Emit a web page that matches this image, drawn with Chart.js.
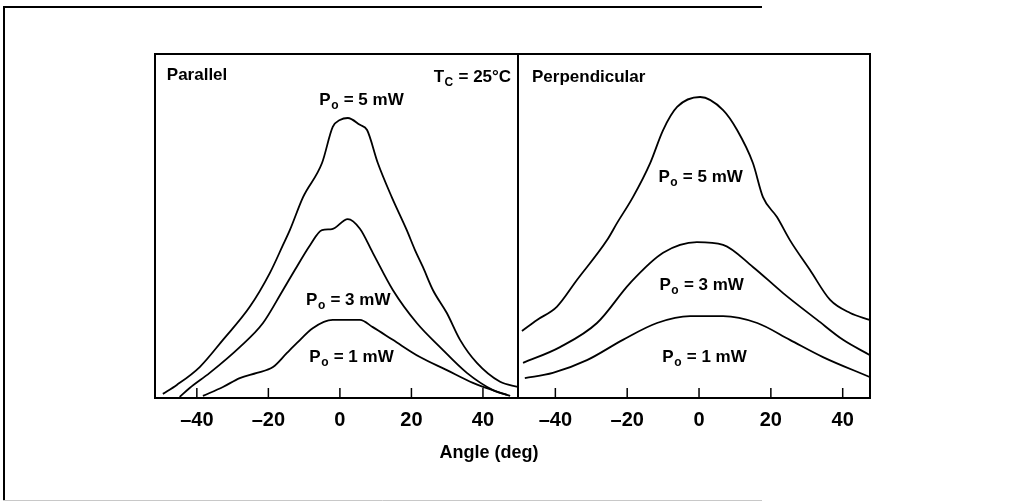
<!DOCTYPE html>
<html>
<head>
<meta charset="utf-8">
<script src="https://cdn.jsdelivr.net/npm/chart.js@4"></script>
<style>
  html, body { margin: 0; padding: 0; background: #fff; }
  canvas { position: absolute; left: 0; top: 0; }
</style>
</head>
<body>
<canvas id="parallelChart" width="1020" height="503"></canvas>
<canvas id="perpChart" width="1020" height="503"></canvas>
<script>
// tick labels shared by both panels
const tickValues = [-40, -20, 0, 20, 40];

// Parallel panel (angle in deg, intensity in arbitrary units)
const parAngle5 = [-49.5, -45.6, -39.2, -32.7, -25.2, -19.6, -15.9, -14.0, -10.3, -5.0, -2.0, 0.0, 2.2, 5.6, 7.6, 10.6, 14.5, 18.7, 21.0, 23.2, 26.0, 29.9, 33.6, 38.3, 44.8, 49.8];
const parP5     = [0.12, 0.38, 0.90, 1.69, 2.65, 3.63, 4.45, 4.88, 5.84, 6.83, 7.88, 8.08, 8.14, 7.94, 7.79, 6.83, 5.84, 4.88, 4.30, 3.81, 3.14, 2.47, 1.69, 1.02, 0.47, 0.32];

const parAngle3 = [-44.8, -42.0, -36.4, -28.0, -21.5, -15.9, -12.6, -8.3, -5.0, -2.2, 2.2, 5.6, 9.2, 14.8, 21.5, 28.0, 35.5, 42.8, 47.6];
const parP3     = [0.03, 0.29, 0.73, 1.48, 2.18, 3.14, 3.72, 4.45, 4.88, 4.91, 5.20, 4.92, 4.22, 3.14, 2.18, 1.48, 0.73, 0.23, 0.06];

const parAngle1 = [-38.3, -32.7, -28.0, -23.2, -18.7, -14.8, -12.0, -7.6, -2.0, 5.6, 9.2, 14.8, 22.4, 29.9, 37.2, 46.7];
const parP1     = [0.06, 0.32, 0.58, 0.73, 0.90, 1.31, 1.60, 2.03, 2.27, 2.27, 2.06, 1.69, 1.19, 0.81, 0.44, 0.09];

// Perpendicular panel
const perAngle5 = [-49.3, -45.1, -39.6, -34.0, -25.6, -22.8, -18.4, -13.6, -10.0, -6.1, 0.3, 6.7, 10.6, 15.0, 17.8, 21.7, 25.3, 30.9, 36.5, 42.1, 47.5];
const perP5     = [1.95, 2.27, 2.65, 3.43, 4.59, 5.09, 5.84, 6.83, 7.79, 8.46, 8.75, 8.37, 7.79, 6.83, 5.84, 5.26, 4.59, 3.72, 2.85, 2.47, 2.27];

const perAngle3 = [-49.0, -38.7, -28.4, -19.2, -10.0, -0.6, 6.7, 15.0, 23.4, 32.9, 40.1, 47.5];
const perP3     = [1.02, 1.48, 2.18, 3.34, 4.22, 4.53, 4.45, 3.81, 3.05, 2.27, 1.69, 1.25];

const perAngle1 = [-48.5, -40.7, -31.2, -21.2, -11.7, -2.5, 6.7, 16.2, 25.3, 34.5, 47.5];
const perP1     = [0.58, 0.73, 1.10, 1.69, 2.18, 2.38, 2.38, 2.18, 1.69, 1.19, 0.61];

const FONT = "'Liberation Sans', Arial, sans-serif";

function pts(xs, ys) {
    return xs.map((x, i) => ({ x: x, y: ys[i] }));
}

function lineSet(xs, ys) {
    return {
        data: pts(xs, ys),
        borderColor: "#000",
        borderWidth: 1.8,
        pointRadius: 0,
        cubicInterpolationMode: "monotone",
        fill: false
    };
}

// draws "P" + subscript + rest, aligned at x
function drawSubText(ctx, x, y, main, sub, rest, align) {
    const big = "bold 17px " + FONT;
    const small = "bold 12px " + FONT;
    ctx.font = big;
    const w1 = ctx.measureText(main).width;
    const w3 = ctx.measureText(rest).width;
    ctx.font = small;
    const w2 = ctx.measureText(sub).width;
    const total = w1 + w2 + w3;
    let sx = x;
    if (align === "center") sx = x - total / 2;
    if (align === "right") sx = x - total;
    ctx.textAlign = "left";
    ctx.textBaseline = "middle";
    ctx.font = big;
    ctx.fillText(main, sx, y);
    ctx.font = small;
    ctx.fillText(sub, sx + w1 + 0.5, y + 6);
    ctx.font = big;
    ctx.fillText(rest, sx + w1 + w2 + 1, y);
}

const panelPlugin = {
    id: "panel",
    afterDraw(chart, args, opts) {
        const ctx = chart.ctx;
        const a = chart.chartArea;
        const xs = chart.scales.x;
        const ys = chart.scales.y;
        ctx.save();
        ctx.strokeStyle = "#000";
        ctx.lineWidth = 2;
        ctx.strokeRect(a.left, a.top, a.right - a.left, a.bottom - a.top);
        // inward tick marks
        ctx.lineWidth = 1.5;
        tickValues.forEach(v => {
            const px = xs.getPixelForValue(v);
            ctx.beginPath();
            ctx.moveTo(px, a.bottom);
            ctx.lineTo(px, a.bottom - 10);
            ctx.stroke();
        });
        ctx.fillStyle = "#000";
        (opts.labels || []).forEach(l => {
            const px = xs.getPixelForValue(l.x);
            const py = ys.getPixelForValue(l.y);
            if (l.sub) {
                drawSubText(ctx, px, py, l.main, l.sub, l.rest, l.align);
            } else {
                ctx.font = "bold 17px " + FONT;
                ctx.textAlign = l.align;
                ctx.textBaseline = "middle";
                ctx.fillText(l.main, px, py);
            }
        });
        ctx.restore();
    }
};

const pagePlugin = {
    id: "page",
    beforeDraw(chart) {
        const ctx = chart.ctx;
        ctx.save();
        ctx.strokeStyle = "#000";
        ctx.lineWidth = 2;
        ctx.beginPath();
        ctx.moveTo(3, 7);
        ctx.lineTo(762, 7);
        ctx.moveTo(4, 7);
        ctx.lineTo(4, 500);
        ctx.stroke();
        ctx.strokeStyle = "#c8c8c8";
        ctx.lineWidth = 1;
        ctx.beginPath();
        ctx.moveTo(3, 500.5);
        ctx.lineTo(762, 500.5);
        ctx.stroke();
        ctx.fillStyle = "#000";
        ctx.font = "bold 18px " + FONT;
        ctx.textAlign = "center";
        ctx.textBaseline = "middle";
        ctx.fillText("Angle (deg)", 489, 453);
        ctx.restore();
    }
};

function makePanel(id, padLeft, padRight, xMin, xMax, sets, labels, extra) {
    return new Chart(document.getElementById(id), {
        type: "line",
        data: { datasets: sets },
        options: {
            responsive: false,
            animation: false,
            layout: { padding: { left: padLeft, right: padRight, top: 54, bottom: 0 } },
            plugins: {
                legend: { display: false },
                tooltip: { enabled: false },
                panel: { labels: labels }
            },
            scales: {
                x: {
                    type: "linear",
                    min: xMin,
                    max: xMax,
                    afterBuildTicks: s => { s.ticks = tickValues.map(v => ({ value: v })); },
                    afterFit: s => { s.height = 105; },
                    grid: { display: false, drawTicks: false },
                    border: { display: false },
                    ticks: {
                        padding: 10,
                        color: "#000",
                        font: { family: FONT, size: 20, weight: "bold" },
                        callback: v => v < 0 ? "\u2013" + (-v) : String(v)
                    }
                },
                y: { display: false, min: 0, max: 10 }
            }
        },
        plugins: [panelPlugin].concat(extra)
    });
}

makePanel("parallelChart", 155, 1020 - 518, -51.7, 49.8,
    [lineSet(parAngle5, parP5), lineSet(parAngle3, parP3), lineSet(parAngle1, parP1)],
    [
        { main: "Parallel", x: -48.4, y: 9.39, align: "left" },
        { main: "T", sub: "C", rest: " = 25\u00B0C", x: 47.6, y: 9.33, align: "right" },
        { main: "P", sub: "o", rest: " = 5 mW", x: 5.9, y: 8.66, align: "center" },
        { main: "P", sub: "o", rest: " = 3 mW", x: 2.2, y: 2.85, align: "center" },
        { main: "P", sub: "o", rest: " = 1 mW", x: 3.1, y: 1.19, align: "center" }
    ],
    [pagePlugin]);

makePanel("perpChart", 518, 1020 - 870, -50.4, 47.6,
    [lineSet(perAngle5, perP5), lineSet(perAngle3, perP3), lineSet(perAngle1, perP1)],
    [
        { main: "Perpendicular", x: -46.5, y: 9.33, align: "left" },
        { main: "P", sub: "o", rest: " = 5 mW", x: 0.3, y: 6.42, align: "center" },
        { main: "P", sub: "o", rest: " = 3 mW", x: 0.6, y: 3.28, align: "center" },
        { main: "P", sub: "o", rest: " = 1 mW", x: 1.4, y: 1.19, align: "center" }
    ],
    []);
</script>
</body>
</html>
